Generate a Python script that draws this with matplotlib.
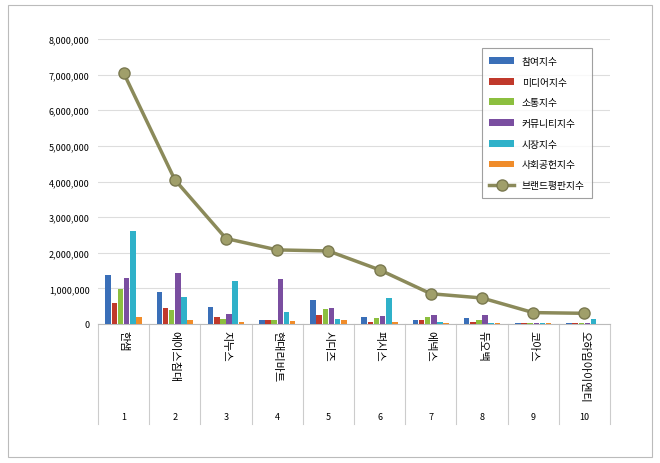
import numpy as np
import matplotlib.pyplot as plt
from matplotlib.transforms import blended_transform_factory
from matplotlib.patches import Rectangle

plt.rcParams['font.family'] = ['Noto Sans CJK JP', 'Noto Sans CJK KR', 'DejaVu Sans']

brands = ['한샘', '에이스침대', '지누스', '현대리바트', '시디즈', '퍼시스', '에넥스', '듀오백', '코아스', '오하임아이엔티']
ranks = ['1', '2', '3', '4', '5', '6', '7', '8', '9', '10']
series_names = ['참여지수', '미디어지수', '소통지수', '커뮤니티지수', '시장지수', '사회공헌지수']
participation = [1380000, 900000, 480000, 100000, 660000, 200000, 100000, 170000, 30000, 30000]
media = [580000, 450000, 200000, 100000, 240000, 70000, 100000, 50000, 20000, 20000]
communication = [980000, 380000, 140000, 120000, 410000, 180000, 200000, 100000, 40000, 20000]
community = [1300000, 1420000, 280000, 1250000, 450000, 220000, 250000, 250000, 40000, 30000]
market = [2600000, 750000, 1200000, 330000, 130000, 730000, 50000, 30000, 30000, 140000]
social = [200000, 100000, 50000, 90000, 100000, 60000, 30000, 30000, 20000, 10000]
brand_index = [7050000, 4050000, 2400000, 2080000, 2050000, 1520000, 850000, 730000, 320000, 300000]

colors = ['#3a6fb8', '#c0392b', '#8cbf3f', '#7a4ea0', '#2fb1c9', '#f08c2a']
series = [participation, media, communication, community, market, social]

fig = plt.figure(figsize=(6.6, 4.64), dpi=100)
fig.patches.append(Rectangle((8/660, 6/464), 644/660, 452/464, transform=fig.transFigure,
                             fill=False, edgecolor='#bbbbbb', linewidth=0.8))
ax = fig.add_axes([98/660, 139/464, 512/660, 285/464])

x = np.arange(len(brands))
w = 0.12
handles = []
for i, (vals, c) in enumerate(zip(series, colors)):
    h = ax.bar(x + (i - 2.5) * w, vals, width=w * 0.9, color=c, label=series_names[i], zorder=3)
    handles.append(h)
line, = ax.plot(x, brand_index, color='#8b8a5a', linewidth=2.5, marker='o', markersize=8,
                markerfacecolor='#a09f6a', markeredgecolor='#7a7950', label='브랜드평판지수', zorder=4)
handles.append(line)

ax.set_xlim(-0.5, len(brands) - 0.5)
ax.set_ylim(0, 8000000)
ax.set_yticks(np.arange(0, 8000001, 1000000))
ax.set_yticklabels([f'{v:,}' for v in range(0, 8000001, 1000000)], fontsize=6.5)
ax.grid(axis='y', color='#dddddd', linewidth=0.8, zorder=0)
for s in ['top', 'right', 'left']:
    ax.spines[s].set_visible(False)
ax.spines['bottom'].set_color('#bbbbbb')
ax.tick_params(axis='y', length=0, pad=6)
ax.set_xticks([])

tr = blended_transform_factory(ax.transData, ax.transAxes)
for b in np.arange(-0.5, len(brands), 1.0):
    ax.plot([b, b], [0, -100/285], color='#cccccc', linewidth=0.8, transform=tr, clip_on=False)
for xi, name, r in zip(x, brands, ranks):
    ax.text(xi, -0.02, name, rotation=270, ha='center', va='top', fontsize=8, transform=tr)
    ax.text(xi, -93/285, r, ha='center', va='center', fontsize=6.5, transform=tr)

leg = ax.legend(handles=handles, loc='upper right', bbox_to_anchor=(0.975, 0.985), fontsize=7,
                frameon=True, fancybox=False, edgecolor='#888888', handlelength=2.5,
                labelspacing=1.1, borderpad=0.8)
leg.get_frame().set_linewidth(0.8)

fig.savefig('out.png', dpi=100)
